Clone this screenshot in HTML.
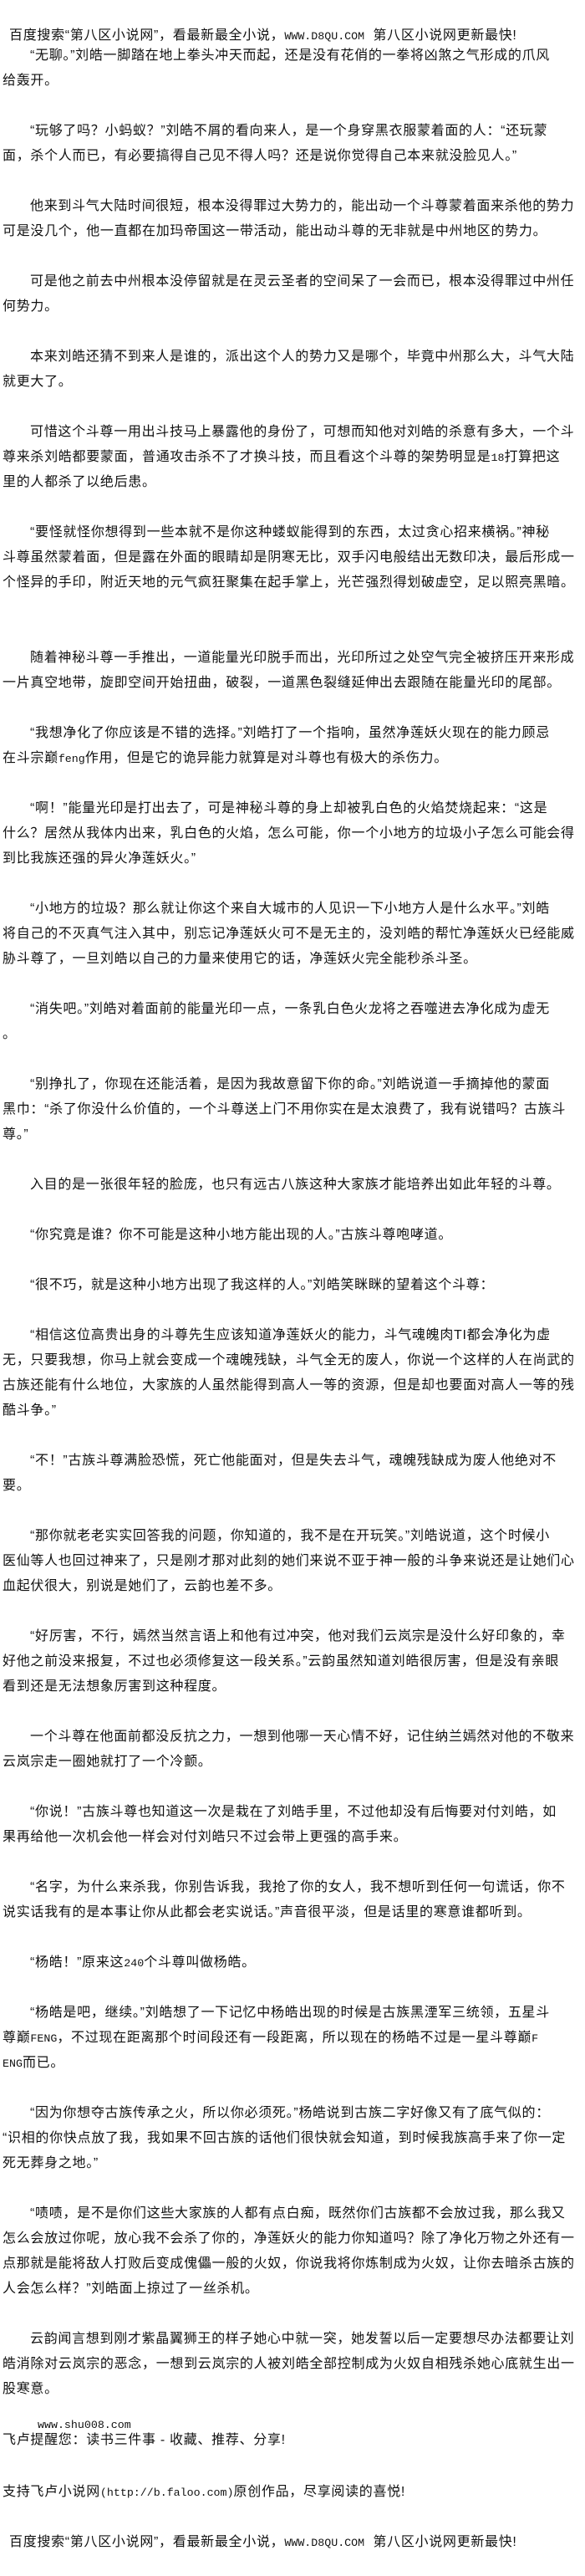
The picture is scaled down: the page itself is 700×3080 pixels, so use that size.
<!DOCTYPE html>
<html lang="zh-CN">
<head>
<meta charset="utf-8">
<style>
html,body{margin:0;padding:0;background:#fff;}
body{width:700px;height:3080px;position:relative;overflow:hidden;color:#111;
font-family:"Liberation Sans","Noto Sans CJK SC",sans-serif;font-size:16px;letter-spacing:0.7px;}
#body{position:absolute;left:3px;top:52px;width:697px;}
#body div{height:30px;line-height:30px;white-space:nowrap;}
#body div.i{padding-left:33px;}
.abs{position:absolute;white-space:nowrap;line-height:30px;height:30px;}
.m{font-family:"Liberation Mono",monospace;font-size:13.3px;letter-spacing:0;}
</style>
</head>
<body>
<div class="abs" style="left:11px;top:28px;">百度搜索“第八区小说网”，看最新最全小说，<span class="m">WWW.D8QU.COM</span>&nbsp;&nbsp;第八区小说网更新最快!</div>
<div id="body">
<div class="i">“无聊。”刘皓一脚踏在地上拳头冲天而起，还是没有花俏的一拳将凶煞之气形成的爪风</div>
<div>给轰开。</div>
<div></div>
<div class="i">“玩够了吗？小蚂蚁？”刘皓不屑的看向来人，是一个身穿黑衣服蒙着面的人：“还玩蒙</div>
<div>面，杀个人而已，有必要搞得自己见不得人吗？还是说你觉得自己本来就没脸见人。”</div>
<div></div>
<div class="i">他来到斗气大陆时间很短，根本没得罪过大势力的，能出动一个斗尊蒙着面来杀他的势力</div>
<div>可是没几个，他一直都在加玛帝国这一带活动，能出动斗尊的无非就是中州地区的势力。</div>
<div></div>
<div class="i">可是他之前去中州根本没停留就是在灵云圣者的空间呆了一会而已，根本没得罪过中州任</div>
<div>何势力。</div>
<div></div>
<div class="i">本来刘皓还猜不到来人是谁的，派出这个人的势力又是哪个，毕竟中州那么大，斗气大陆</div>
<div>就更大了。</div>
<div></div>
<div class="i">可惜这个斗尊一用出斗技马上暴露他的身份了，可想而知他对刘皓的杀意有多大，一个斗</div>
<div>尊来杀刘皓都要蒙面，普通攻击杀不了才换斗技，而且看这个斗尊的架势明显是<span class="m">18</span>打算把这</div>
<div>里的人都杀了以绝后患。</div>
<div></div>
<div class="i">“要怪就怪你想得到一些本就不是你这种蝼蚁能得到的东西，太过贪心招来横祸。”神秘</div>
<div>斗尊虽然蒙着面，但是露在外面的眼睛却是阴寒无比，双手闪电般结出无数印决，最后形成一</div>
<div>个怪异的手印，附近天地的元气疯狂聚集在起手掌上，光芒强烈得划破虚空，足以照亮黑暗。</div>
<div></div>
<div></div>
<div class="i">随着神秘斗尊一手推出，一道能量光印脱手而出，光印所过之处空气完全被挤压开来形成</div>
<div>一片真空地带，旋即空间开始扭曲，破裂，一道黑色裂缝延伸出去跟随在能量光印的尾部。</div>
<div></div>
<div class="i">“我想净化了你应该是不错的选择。”刘皓打了一个指响，虽然净莲妖火现在的能力顾忌</div>
<div>在斗宗巅<span class="m">feng</span>作用，但是它的诡异能力就算是对斗尊也有极大的杀伤力。</div>
<div></div>
<div class="i">“啊！”能量光印是打出去了，可是神秘斗尊的身上却被乳白色的火焰焚烧起来：“这是</div>
<div>什么？居然从我体内出来，乳白色的火焰，怎么可能，你一个小地方的垃圾小子怎么可能会得</div>
<div>到比我族还强的异火净莲妖火。”</div>
<div></div>
<div class="i">“小地方的垃圾？那么就让你这个来自大城市的人见识一下小地方人是什么水平。”刘皓</div>
<div>将自己的不灭真气注入其中，别忘记净莲妖火可不是无主的，没刘皓的帮忙净莲妖火已经能威</div>
<div>胁斗尊了，一旦刘皓以自己的力量来使用它的话，净莲妖火完全能秒杀斗圣。</div>
<div></div>
<div class="i">“消失吧。”刘皓对着面前的能量光印一点，一条乳白色火龙将之吞噬进去净化成为虚无</div>
<div>。</div>
<div></div>
<div class="i">“别挣扎了，你现在还能活着，是因为我故意留下你的命。”刘皓说道一手摘掉他的蒙面</div>
<div>黑巾：“杀了你没什么价值的，一个斗尊送上门不用你实在是太浪费了，我有说错吗？古族斗</div>
<div>尊。”</div>
<div></div>
<div class="i">入目的是一张很年轻的脸庞，也只有远古八族这种大家族才能培养出如此年轻的斗尊。</div>
<div></div>
<div class="i">“你究竟是谁？你不可能是这种小地方能出现的人。”古族斗尊咆哮道。</div>
<div></div>
<div class="i">“很不巧，就是这种小地方出现了我这样的人。”刘皓笑眯眯的望着这个斗尊：</div>
<div></div>
<div class="i">“相信这位高贵出身的斗尊先生应该知道净莲妖火的能力，斗气魂魄肉TI都会净化为虚</div>
<div>无，只要我想，你马上就会变成一个魂魄残缺，斗气全无的废人，你说一个这样的人在尚武的</div>
<div>古族还能有什么地位，大家族的人虽然能得到高人一等的资源，但是却也要面对高人一等的残</div>
<div>酷斗争。”</div>
<div></div>
<div class="i">“不！”古族斗尊满脸恐慌，死亡他能面对，但是失去斗气，魂魄残缺成为废人他绝对不</div>
<div>要。</div>
<div></div>
<div class="i">“那你就老老实实回答我的问题，你知道的，我不是在开玩笑。”刘皓说道，这个时候小</div>
<div>医仙等人也回过神来了，只是刚才那对此刻的她们来说不亚于神一般的斗争来说还是让她们心</div>
<div>血起伏很大，别说是她们了，云韵也差不多。</div>
<div></div>
<div class="i">“好厉害，不行，嫣然当然言语上和他有过冲突，他对我们云岚宗是没什么好印象的，幸</div>
<div>好他之前没来报复，不过也必须修复这一段关系。”云韵虽然知道刘皓很厉害，但是没有亲眼</div>
<div>看到还是无法想象厉害到这种程度。</div>
<div></div>
<div class="i">一个斗尊在他面前都没反抗之力，一想到他哪一天心情不好，记住纳兰嫣然对他的不敬来</div>
<div>云岚宗走一圈她就打了一个冷颤。</div>
<div></div>
<div class="i">“你说！”古族斗尊也知道这一次是栽在了刘皓手里，不过他却没有后悔要对付刘皓，如</div>
<div>果再给他一次机会他一样会对付刘皓只不过会带上更强的高手来。</div>
<div></div>
<div class="i">“名字，为什么来杀我，你别告诉我，我抢了你的女人，我不想听到任何一句谎话，你不</div>
<div>说实话我有的是本事让你从此都会老实说话。”声音很平淡，但是话里的寒意谁都听到。</div>
<div></div>
<div class="i">“杨皓！”原来这<span class="m">240</span>个斗尊叫做杨皓。</div>
<div></div>
<div class="i">“杨皓是吧，继续。”刘皓想了一下记忆中杨皓出现的时候是古族黑湮军三统领，五星斗</div>
<div>尊巅<span class="m">FENG</span>，不过现在距离那个时间段还有一段距离，所以现在的杨皓不过是一星斗尊巅<span class="m">F</span></div>
<div><span class="m">ENG</span>而已。</div>
<div></div>
<div class="i">“因为你想夺古族传承之火，所以你必须死。”杨皓说到古族二字好像又有了底气似的：</div>
<div>“识相的你快点放了我，我如果不回古族的话他们很快就会知道，到时候我族高手来了你一定</div>
<div>死无葬身之地。”</div>
<div></div>
<div class="i">“啧啧，是不是你们这些大家族的人都有点白痴，既然你们古族都不会放过我，那么我又</div>
<div>怎么会放过你呢，放心我不会杀了你的，净莲妖火的能力你知道吗？除了净化万物之外还有一</div>
<div>点那就是能将敌人打败后变成傀儡一般的火奴，你说我将你炼制成为火奴，让你去暗杀古族的</div>
<div>人会怎么样？”刘皓面上掠过了一丝杀机。</div>
<div></div>
<div class="i">云韵闻言想到刚才紫晶翼狮王的样子她心中就一突，她发誓以后一定要想尽办法都要让刘</div>
<div>皓消除对云岚宗的恶念，一想到云岚宗的人被刘皓全部控制成为火奴自相残杀她心底就生出一</div>
<div>股寒意。</div>
</div>
<div class="abs m" style="left:45px;top:2887px;height:26px;line-height:26px;">www.shu008.com</div>
<div class="abs" style="left:3px;top:2903px;">飞卢提醒您：读书三件事 - 收藏、推荐、分享!</div>
<div class="abs" style="left:3px;top:2965px;">支持飞卢小说网<span class="m">(http://b.faloo.com)</span>原创作品，尽享阅读的喜悦!</div>
<div class="abs" style="left:11px;top:3025px;">百度搜索“第八区小说网”，看最新最全小说，<span class="m">WWW.D8QU.COM</span>&nbsp;&nbsp;第八区小说网更新最快!</div>
</body>
</html>
